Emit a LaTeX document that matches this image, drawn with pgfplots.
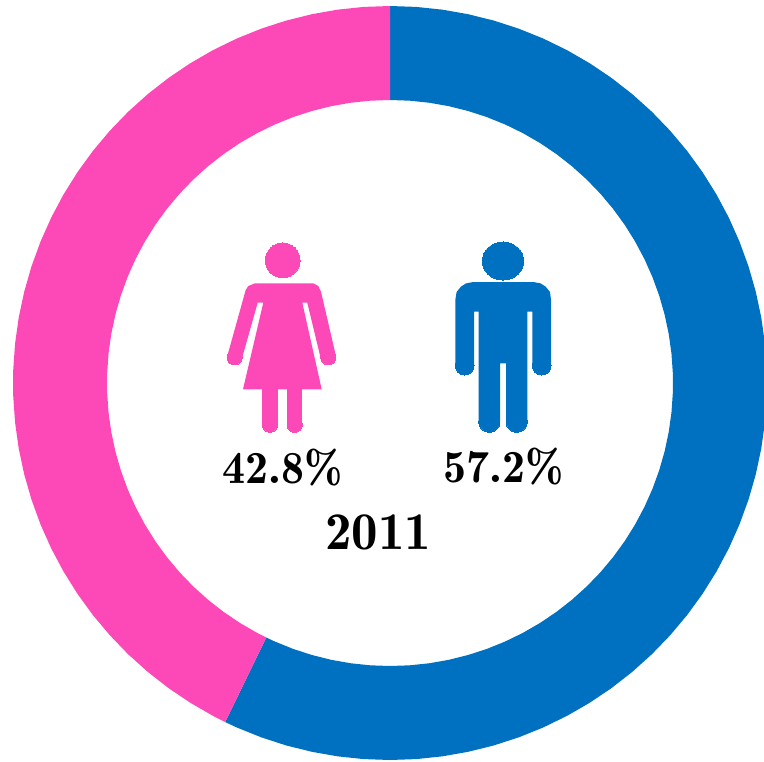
\documentclass[border=0pt]{standalone}
\usepackage{fontspec}
\usepackage{pgfplots}
\usepackage{pgfplotstable}
\pgfplotsset{compat=1.18}
\newfontfamily\lab{Latin Modern Roman Demi}
\definecolor{mblue}{HTML}{0070C0}
\definecolor{fpink}{HTML}{FD49B8}
% ring outlines: angle clockwise from 12 o'clock (57.2% = 205.92 deg), radius in px
\pgfplotstableread{
a r
0 377
4 377
8 377
12 377
16 377
20 377
24 377
28 377
32 377
36 377
40 377
44 377
48 377
52 377
56 377
60 377
64 377
68 377
72 377
76 377
80 377
84 377
88 377
92 377
96 377
100 377
104 377
108 377
112 377
116 377
120 377
124 377
128 377
132 377
136 377
140 377
144 377
148 377
152 377
156 377
160 377
164 377
168 377
172 377
176 377
180 377
184 377
188 377
192 377
196 377
200 377
204 377
205.92 377
205.92 283
204 283
200 283
196 283
192 283
188 283
184 283
180 283
176 283
172 283
168 283
164 283
160 283
156 283
152 283
148 283
144 283
140 283
136 283
132 283
128 283
124 283
120 283
116 283
112 283
108 283
104 283
100 283
96 283
92 283
88 283
84 283
80 283
76 283
72 283
68 283
64 283
60 283
56 283
52 283
48 283
44 283
40 283
36 283
32 283
28 283
24 283
20 283
16 283
12 283
8 283
4 283
0 283
}\bluering
\pgfplotstableread{
a r
205.92 377
208 377
212 377
216 377
220 377
224 377
228 377
232 377
236 377
240 377
244 377
248 377
252 377
256 377
260 377
264 377
268 377
272 377
276 377
280 377
284 377
288 377
292 377
296 377
300 377
304 377
308 377
312 377
316 377
320 377
324 377
328 377
332 377
336 377
340 377
344 377
348 377
352 377
356 377
360 377
360 283
356 283
352 283
348 283
344 283
340 283
336 283
332 283
328 283
324 283
320 283
316 283
312 283
308 283
304 283
300 283
296 283
292 283
288 283
284 283
280 283
276 283
272 283
268 283
264 283
260 283
256 283
252 283
248 283
244 283
240 283
236 283
232 283
228 283
224 283
220 283
216 283
212 283
208 283
205.92 283
}\pinkring
\begin{document}
\begin{tikzpicture}
\begin{axis}[
  scale only axis, width=764bp, height=762bp,
  xmin=0, xmax=764, ymin=0, ymax=762, y dir=reverse,
  hide axis, clip=true]
\path (axis cs:0,0) rectangle (axis cs:764,762);
% ring
\addplot[draw=none, fill=mblue] table[x expr={390+\thisrow{r}*sin(\thisrow{a})}, y expr={383-\thisrow{r}*cos(\thisrow{a})}] {\bluering} -- cycle;
\addplot[draw=none, fill=fpink] table[x expr={390+\thisrow{r}*sin(\thisrow{a})}, y expr={383-\thisrow{r}*cos(\thisrow{a})}] {\pinkring} -- cycle;
% woman
\addplot[draw=none, fill=fpink] coordinates {(255,283.3)(313.3,283.3)(318.3,286)(321,291.7)(335.7,355)(320.7,358.3)(307.3,302.7)(302.3,302.7)(321.7,389.3)(243,389.3)(263.3,302.7)(257.7,302.7)(242,358.3)(227.3,356)(245.7,290)(248.3,286)} -- cycle;
\addplot[only marks, mark=*, mark size=17.4bp, mark options={draw=fpink, line width=0pt, fill=fpink}] coordinates {(282.7,260.3)};
\addplot[only marks, mark=*, mark size=7.6bp, mark options={draw=fpink, line width=0pt, fill=fpink}] coordinates {(234.7,357.3)(328.3,357.3)};
\addplot[fpink, line width=15.3bp] coordinates {(270,389)(270,424.7)};
\addplot[fpink, line width=15.3bp] coordinates {(294.7,389)(294.7,424.7)};
\addplot[only marks, mark=*, mark size=7.65bp, mark options={draw=fpink, line width=0pt, fill=fpink}] coordinates {(270,424.7)(294.7,424.7)};
% man
\addplot[draw=none, fill=mblue] coordinates {(455.3,300)(456.6,292)(461,286.6)(466,283.4)(473.3,282)(533.3,282)(540.6,283.4)(545.6,286.6)(550,292)(551,300)(551,365.7)(532.3,365.7)(532.3,311.7)(527.3,311.7)(527.3,421.7)(506,421.7)(506,363.3)(500,363.3)(500,421.7)(478.7,421.7)(478.7,311.7)(474,311.7)(474,365.7)(455.3,365.7)} -- cycle;
\addplot[only marks, mark=*, mark size=20.7bp, mark options={draw=mblue, line width=0pt, fill=mblue, yscale=0.92}] coordinates {(503,261)};
\addplot[only marks, mark=*, mark size=9.35bp, mark options={draw=mblue, line width=0pt, fill=mblue}] coordinates {(464.7,365.7)(541.7,365.7)};
\addplot[only marks, mark=*, mark size=10.65bp, mark options={draw=mblue, line width=0pt, fill=mblue}] coordinates {(489.3,421.7)(516.7,421.7)};
% labels
\node[font=\lab\fontsize{46bp}{46bp}\selectfont, inner sep=0pt] at (axis cs:282.5,468) {42.8\%};
\node[font=\lab\fontsize{46bp}{46bp}\selectfont, inner sep=0pt] at (axis cs:504,467) {57.2\%};
\node[font=\lab\fontsize{53bp}{53bp}\selectfont, inner sep=0pt] at (axis cs:378,532) {2011};
\end{axis}
\end{tikzpicture}
\end{document}
